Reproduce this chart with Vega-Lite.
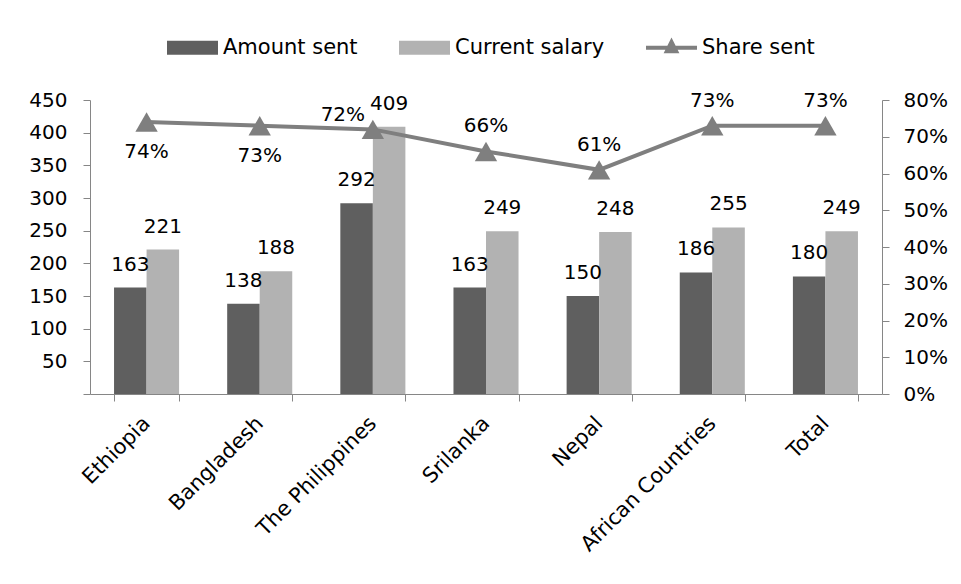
{
  "$schema": "https://vega.github.io/schema/vega-lite/v6.json",
  "autosize": {"type": "none"},
  "width": 792,
  "height": 294,
  "padding": {"left": 90, "top": 100, "right": 79, "bottom": 190},
  "background": "white",
  "datasets": {
    "bars": [
      {"country": "Ethiopia", "series": "Amount sent", "value": 163},
      {"country": "Ethiopia", "series": "Current salary", "value": 221},
      {"country": "Bangladesh", "series": "Amount sent", "value": 138},
      {"country": "Bangladesh", "series": "Current salary", "value": 188},
      {"country": "The Philippines", "series": "Amount sent", "value": 292},
      {"country": "The Philippines", "series": "Current salary", "value": 409},
      {"country": "Srilanka", "series": "Amount sent", "value": 163},
      {"country": "Srilanka", "series": "Current salary", "value": 249},
      {"country": "Nepal", "series": "Amount sent", "value": 150},
      {"country": "Nepal", "series": "Current salary", "value": 248},
      {"country": "African Countries", "series": "Amount sent", "value": 186},
      {"country": "African Countries", "series": "Current salary", "value": 255},
      {"country": "Total", "series": "Amount sent", "value": 180},
      {"country": "Total", "series": "Current salary", "value": 249}
    ],
    "share": [
      {"country": "Ethiopia", "share": 0.74},
      {"country": "Bangladesh", "share": 0.73},
      {"country": "The Philippines", "share": 0.72},
      {"country": "Srilanka", "share": 0.66},
      {"country": "Nepal", "share": 0.61},
      {"country": "African Countries", "share": 0.73},
      {"country": "Total", "share": 0.73}
    ]
  },
  "config": {
    "font": "DejaVu Sans",
    "view": {"stroke": null},
    "axis": {
      "domainColor": "#868686",
      "tickColor": "#868686",
      "labelColor": "#000000",
      "labelFontSize": 20,
      "grid": false,
      "tickSize": 7,
      "title": null
    },
    "text": {"fontSize": 20, "color": "#000000"}
  },
  "encoding": {
    "x": {
      "field": "country",
      "type": "nominal",
      "sort": null,
      "scale": {"paddingInner": 0.425, "paddingOuter": 0.2125},
      "axis": {"title": null, "labelAngle": -45, "labelAlign": "right", "labelBaseline": "middle", "tickBand": "extent", "labelPadding": 19, "labelFontSize": 21, "labelLimit": 400}
    }
  },
  "layer": [
    {
      "data": {"name": "bars"},
      "encoding": {
        "y": {
          "field": "value",
          "type": "quantitative",
          "scale": {"domain": [0, 450], "nice": false},
          "axis": {"title": null, "values": [0, 50, 100, 150, 200, 250, 300, 350, 400, 450], "labelExpr": "datum.value == 0 ? '' : datum.label", "labelPadding": 16}
        },
        "xOffset": {"field": "series", "type": "nominal", "sort": ["Amount sent", "Current salary"]}
      },
      "layer": [
        {
          "mark": {"type": "bar"},
          "encoding": {
            "color": {
              "field": "series",
              "type": "nominal",
              "scale": {"domain": ["Amount sent", "Current salary", "Share sent"], "range": ["#5f5f5f", "#b2b2b2", "#7f7f7f"]},
              "legend": {
                "orient": "none",
                "legendX": 77,
                "legendY": -78,
                "direction": "horizontal",
                "title": null,
                "labelFontSize": 21,
                "labelColor": "#000000",
                "symbolSize": 2601,
                "columnPadding": 41,
                "labelOffset": 5,
                "encode": {
                  "symbols": {
                    "update": {
                      "shape": {"signal": "datum.value === 'Share sent' ? 'M-1,-0.08H1V0.08H-1Z M0,-0.4L0.31,0.22H-0.31Z' : 'M-1,-0.27H1V0.27H-1Z'"},
                      "fill": {"signal": "scale('color', datum.value)"},
                      "strokeWidth": {"value": 0},
                      "opacity": {"value": 1}
                    }
                  }
                }
              }
            }
          }
        },
        {
          "mark": {"type": "text", "baseline": "middle", "dy": -23},
          "encoding": {"text": {"field": "value", "type": "quantitative"}}
        }
      ]
    },
    {
      "data": {"name": "share"},
      "encoding": {
        "y": {
          "field": "share",
          "type": "quantitative",
          "scale": {"domain": [0, 0.8], "nice": false},
          "axis": {"title": null, "orient": "right", "format": ".0%", "values": [0, 0.1, 0.2, 0.3, 0.4, 0.5, 0.6, 0.7, 0.8], "labelPadding": 14}
        }
      },
      "layer": [
        {
          "mark": {"type": "line", "strokeWidth": 4},
          "encoding": {"color": {"datum": "Share sent", "type": "nominal"}}
        },
        {
          "mark": {"type": "point", "shape": "triangle-up", "filled": true, "size": 500, "opacity": 1},
          "encoding": {"color": {"datum": "Share sent", "type": "nominal"}}
        },
        {
          "transform": [{"filter": "datum.country == 'Ethiopia' || datum.country == 'Bangladesh'"}],
          "mark": {"type": "text", "baseline": "middle", "dy": 30},
          "encoding": {"text": {"field": "share", "type": "quantitative", "format": ".0%"}}
        },
        {
          "transform": [{"filter": "datum.country == 'The Philippines'"}],
          "mark": {"type": "text", "baseline": "middle", "dx": -30, "dy": -14},
          "encoding": {"text": {"field": "share", "type": "quantitative", "format": ".0%"}}
        },
        {
          "transform": [{"filter": "datum.country != 'Ethiopia' && datum.country != 'Bangladesh' && datum.country != 'The Philippines'"}],
          "mark": {"type": "text", "baseline": "middle", "dy": -25},
          "encoding": {"text": {"field": "share", "type": "quantitative", "format": ".0%"}}
        }
      ]
    }
  ],
  "resolve": {"scale": {"y": "independent"}}
}
